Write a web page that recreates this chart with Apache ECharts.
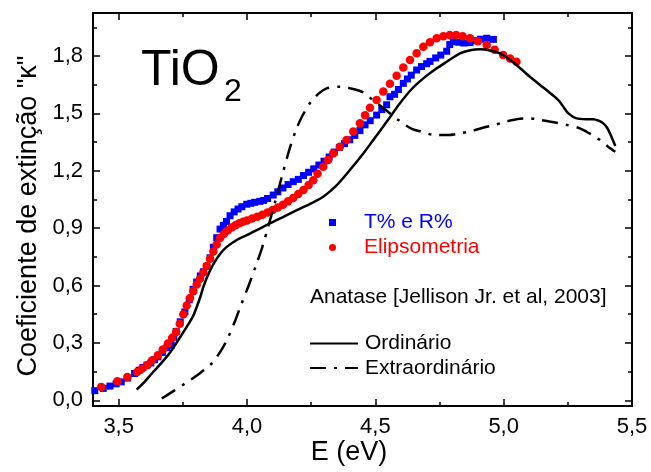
<!DOCTYPE html>
<html>
<head>
<meta charset="utf-8">
<script src="https://cdn.jsdelivr.net/npm/echarts@6/dist/echarts.min.js"></script>
<style>html,body{margin:0;padding:0;background:#fff}#c{width:651px;height:472px}</style>
</head>
<body>
<div id="c"></div>
<script>
// ---- data ----
const tirE = [3.407,3.440,3.466,3.490,3.510,3.535,3.562,3.580,3.595,3.610,3.625,3.640,3.653,3.670,3.688,3.705,3.715,3.724,3.740,3.758,3.775,3.790,3.804,3.818,3.830,3.843,3.856,3.869,3.882,3.895,3.908,3.920,3.934,3.950,3.965,3.980,3.999,4.015,4.030,4.050,4.065,4.080,4.102,4.120,4.140,4.160,4.180,4.200,4.220,4.240,4.260,4.280,4.300,4.320,4.340,4.360,4.380,4.400,4.420,4.440,4.460,4.480,4.505,4.525,4.544,4.557,4.575,4.590,4.609,4.625,4.640,4.661,4.680,4.700,4.713,4.735,4.755,4.778,4.790,4.804,4.825,4.845,4.869,4.890,4.910,4.934,4.960];
const tirK = [0.050,0.062,0.074,0.086,0.096,0.116,0.140,0.157,0.172,0.184,0.195,0.212,0.227,0.250,0.275,0.288,0.330,0.360,0.410,0.462,0.525,0.580,0.618,0.650,0.672,0.700,0.745,0.800,0.850,0.895,0.915,0.935,0.965,0.985,1.000,1.012,1.025,1.030,1.035,1.040,1.045,1.055,1.073,1.090,1.110,1.128,1.143,1.155,1.175,1.192,1.210,1.230,1.250,1.272,1.298,1.322,1.342,1.362,1.385,1.410,1.440,1.462,1.491,1.520,1.545,1.587,1.600,1.625,1.657,1.680,1.700,1.727,1.745,1.760,1.772,1.790,1.805,1.825,1.860,1.875,1.872,1.868,1.870,1.880,1.888,1.893,1.887];

const elipE = [3.432,3.495,3.534,3.572,3.590,3.612,3.630,3.653,3.672,3.692,3.708,3.724,3.738,3.752,3.765,3.778,3.791,3.804,3.817,3.830,3.843,3.856,3.869,3.882,3.895,3.910,3.925,3.940,3.955,3.970,3.985,4.000,4.020,4.040,4.060,4.080,4.100,4.120,4.140,4.160,4.180,4.200,4.220,4.240,4.258,4.275,4.297,4.316,4.336,4.362,4.388,4.414,4.440,4.460,4.479,4.505,4.531,4.557,4.583,4.609,4.635,4.661,4.687,4.713,4.739,4.765,4.790,4.815,4.840,4.869,4.900,4.934,4.965,4.998,5.025,5.050];
const elipK = [0.070,0.100,0.122,0.148,0.165,0.185,0.208,0.235,0.265,0.297,0.325,0.357,0.400,0.450,0.495,0.535,0.570,0.605,0.635,0.668,0.702,0.740,0.778,0.815,0.848,0.870,0.888,0.903,0.915,0.925,0.933,0.940,0.950,0.960,0.970,0.982,0.995,1.008,1.022,1.040,1.058,1.078,1.100,1.125,1.151,1.185,1.221,1.256,1.291,1.325,1.361,1.405,1.448,1.490,1.530,1.570,1.615,1.655,1.697,1.740,1.779,1.815,1.849,1.872,1.893,1.903,1.910,1.910,1.903,1.893,1.877,1.858,1.833,1.805,1.787,1.770];

const ordE = [3.570,3.600,3.629,3.660,3.690,3.707,3.730,3.765,3.790,3.804,3.818,3.830,3.848,3.869,3.895,3.921,3.960,3.999,4.050,4.090,4.140,4.194,4.250,4.297,4.350,4.401,4.450,4.492,4.544,4.596,4.640,4.687,4.735,4.778,4.830,4.870,4.908,4.950,4.986,5.020,5.050,5.102,5.167,5.213,5.235,5.252,5.284,5.320,5.349,5.370,5.388,5.403,5.414,5.425,5.435];
const ordK = [0.056,0.095,0.140,0.185,0.232,0.262,0.310,0.384,0.440,0.488,0.540,0.593,0.655,0.712,0.765,0.802,0.838,0.863,0.898,0.925,0.958,0.994,1.030,1.064,1.125,1.204,1.285,1.361,1.456,1.553,1.625,1.683,1.732,1.770,1.814,1.830,1.835,1.828,1.814,1.785,1.753,1.692,1.622,1.570,1.530,1.500,1.474,1.470,1.470,1.462,1.448,1.425,1.396,1.362,1.330];

const extE = [3.668,3.710,3.758,3.810,3.862,3.900,3.927,3.955,3.979,4.005,4.031,4.057,4.083,4.110,4.135,4.167,4.190,4.213,4.245,4.280,4.310,4.362,4.400,4.453,4.490,4.525,4.560,4.590,4.640,4.680,4.726,4.784,4.830,4.869,4.934,4.966,5.005,5.063,5.102,5.141,5.190,5.245,5.297,5.323,5.350,5.375,5.407,5.435];
const extK = [0.009,0.045,0.087,0.135,0.192,0.262,0.331,0.420,0.506,0.595,0.690,0.790,0.910,1.040,1.165,1.320,1.410,1.480,1.553,1.605,1.631,1.640,1.632,1.610,1.570,1.535,1.497,1.465,1.420,1.404,1.388,1.387,1.396,1.406,1.430,1.440,1.456,1.472,1.474,1.466,1.455,1.440,1.422,1.404,1.383,1.361,1.326,1.299];

const xMajor = [3.5, 4.0, 4.5, 5.0, 5.5];
const xMinor = [3.75, 4.25, 4.75, 5.25];
const yMajor = [0.0, 0.3, 0.6, 0.9, 1.2, 1.5, 1.8];
const yMinor = [0.15, 0.45, 0.75, 1.05, 1.35, 1.65, 1.95];

const zip = (a, b) => a.map((v, i) => [v, b[i]]);
const FONT = 'Liberation Sans, Arial, sans-serif';
const fmt = v => Number(v).toFixed(1).replace('.', ',');

function xAxis(pos, vals, len, labels) {
  return {
    type: 'value', position: pos, min: 3.4, max: 5.5,
    axisLine: { show: true, onZero: false, lineStyle: { color: '#000', width: 2 } },
    splitLine: { show: false },
    axisTick: { show: true, inside: true, length: len, customValues: vals, lineStyle: { color: '#000', width: 1.5 } },
    axisLabel: labels ? { show: true, customValues: vals, formatter: fmt, margin: 10, color: '#000', fontSize: 22, fontFamily: FONT } : { show: false }
  };
}
function yAxis(pos, vals, len, labels) {
  return {
    type: 'value', position: pos, min: -0.03, max: 2.025,
    axisLine: { show: true, onZero: false, lineStyle: { color: '#000', width: 2 } },
    splitLine: { show: false },
    axisTick: { show: true, inside: true, length: len, customValues: vals, lineStyle: { color: '#000', width: 1.5 } },
    axisLabel: labels ? { show: true, customValues: vals, formatter: fmt, margin: 10, color: '#000', fontSize: 22, fontFamily: FONT } : { show: false }
  };
}

const chart = echarts.init(document.getElementById('c'), null, { renderer: 'canvas' });
chart.setOption({
  animation: false,
  backgroundColor: '#fff',
  grid: { left: 93, right: 19, top: 13, bottom: 66, containLabel: false, outerBoundsMode: 'none' },
  xAxis: [
    xAxis('bottom', xMajor, 7, true),
    xAxis('bottom', xMinor, 4, false),
    xAxis('top', xMajor, 7, false),
    xAxis('top', xMinor, 4, false)
  ],
  yAxis: [
    yAxis('left', yMajor, 7, true),
    yAxis('left', yMinor, 4, false),
    yAxis('right', yMajor, 7, false),
    yAxis('right', yMinor, 4, false)
  ],
  legend: [
    {
      data: [
        { name: 'T% e R%', icon: 'rect', textStyle: { color: '#0000ff' } },
        { name: 'Elipsometria', icon: 'circle', textStyle: { color: '#ff0000' } }
      ],
      orient: 'vertical', left: 329, top: 212, padding: 0,
      itemWidth: 7, itemHeight: 7, itemGap: 4, selectedMode: false,
      itemStyle: { opacity: 1 },
      textStyle: { fontSize: 21, fontFamily: FONT, padding: [0, 0, 0, 23] }
    },
    {
      data: ['Ordinário', 'Extraordinário'],
      orient: 'vertical', left: 309, top: 333, padding: 0,
      itemWidth: 48, itemHeight: 4, itemGap: 3.5, selectedMode: false,
      itemStyle: { opacity: 0 },
      textStyle: { fontSize: 21, fontFamily: FONT, color: '#000', padding: [0, 0, 0, 2] }
    }
  ],
  graphic: [
    { type: 'text', x: 141, y: 71, style: { text: 'TiO', fontSize: 50, fontFamily: FONT, fill: '#000', textAlign: 'left', textVerticalAlign: 'middle', align: 'left', verticalAlign: 'middle' } },
    { type: 'text', x: 224, y: 92, style: { text: '2', fontSize: 32, fontFamily: FONT, fill: '#000', textAlign: 'left', textVerticalAlign: 'middle', align: 'left', verticalAlign: 'middle' } },
    { type: 'text', x: 310, y: 297, style: { text: 'Anatase [Jellison Jr. et al, 2003]', fontSize: 21, fontFamily: FONT, fill: '#000', textAlign: 'left', textVerticalAlign: 'middle', align: 'left', verticalAlign: 'middle' } },
    { type: 'text', x: 349, y: 453, style: { text: 'E (eV)', fontSize: 27, fontFamily: FONT, fill: '#000', textAlign: 'center', textVerticalAlign: 'middle', align: 'center', verticalAlign: 'middle' } },
    { type: 'text', x: 29, y: 216, rotation: Math.PI / 2, style: { text: 'Coeficiente de extinção "κ"', fontSize: 27, fontFamily: FONT, fill: '#000', textAlign: 'center', textVerticalAlign: 'middle', align: 'center', verticalAlign: 'middle' } }
  ],
  series: [
    { name: 'T% e R%', type: 'scatter', symbol: 'rect', symbolSize: 7, itemStyle: { color: '#0000ff', opacity: 1 }, data: zip(tirE, tirK), z: 2 },
    { name: 'Elipsometria', type: 'scatter', symbol: 'circle', symbolSize: 8.5, itemStyle: { color: '#ff0000', opacity: 1 }, data: zip(elipE, elipK), z: 3 },
    { name: 'Ordinário', type: 'line', symbol: 'none', showSymbol: false, smooth: 0.3, lineStyle: { color: '#000', width: 2.5 }, itemStyle: { color: '#000' }, data: zip(ordE, ordK), z: 4 },
    { name: 'Extraordinário', type: 'line', symbol: 'none', showSymbol: false, smooth: 0.3, lineStyle: { color: '#000', width: 2.5, type: [16, 8, 3, 8] }, itemStyle: { color: '#000' }, data: zip(extE, extK), z: 4 }
  ]
});
</script>
</body>
</html>
